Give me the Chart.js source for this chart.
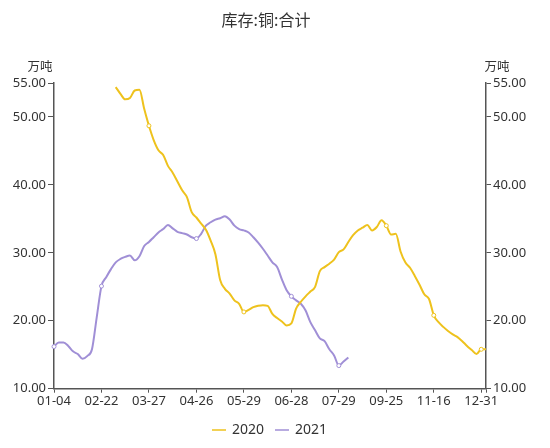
<!DOCTYPE html>
<html>
<head>
<meta charset="utf-8">
<script src="https://cdn.jsdelivr.net/npm/chart.js@4"></script>
<style>
html,body{margin:0;padding:0;background:#fff;}
#wrap{width:550px;height:448px;position:relative;}
</style>
</head>
<body>
<div id="wrap"><canvas id="c"></canvas></div>
<script>
const categories = [
 "01-04","01-09","01-14","01-19","01-24","01-29","02-03","02-08","02-13","02-18",
 "02-22","02-25","03-01","03-04","03-08","03-11","03-14","03-17","03-21","03-24",
 "03-27","03-30","04-02","04-05","04-08","04-11","04-14","04-17","04-20","04-23",
 "04-26","04-29","05-03","05-06","05-09","05-12","05-16","05-19","05-22","05-26",
 "05-29","06-01","06-04","06-07","06-10","06-13","06-16","06-19","06-22","06-25",
 "06-28","07-01","07-04","07-07","07-10","07-13","07-16","07-19","07-22","07-26",
 "07-29","08-03","08-09","08-15","08-21","08-27","09-02","09-08","09-14","09-20",
 "09-25","09-30","10-06","10-12","10-16","10-21","10-26","10-31","11-05","11-10",
 "11-16","11-20","11-25","11-29","12-04","12-08","12-13","12-17","12-22","12-26",
 "12-31",""
];
const tickLabels = ["01-04","02-22","03-27","04-26","05-29","06-28","07-29","09-25","11-16","12-31",""];

const series2020 = [
 null,null,null,null,null,null,null,null,null,null,
 null,null,null,54.4,53.4,52.6,52.8,53.9,54.0,51.2,
 48.7,46.6,45.1,44.4,42.8,41.8,40.5,39.2,38.2,36.0,
 35.2,34.3,33.4,31.8,29.8,26.0,24.7,24.0,23.0,22.5,
 21.3,21.6,22.0,22.2,22.3,22.2,21.0,20.4,19.9,19.3,
 19.6,21.8,22.8,23.6,24.3,25.0,27.3,27.9,28.4,29.0,
 30.1,30.5,31.6,32.6,33.3,33.7,34.1,33.3,33.8,34.8,
 34.0,32.7,32.8,30.2,28.6,27.8,26.6,25.3,23.9,23.2,
 20.8,19.8,19.1,18.5,18.0,17.6,17.0,16.3,15.7,15.1,
 15.8,15.8
];
const series2021 = [
 16.2,16.8,16.8,16.3,15.5,15.1,14.4,14.8,15.8,20.5,
 25.1,26.4,27.6,28.6,29.1,29.4,29.6,28.9,29.5,31.0,
 31.6,32.3,33.0,33.5,34.1,33.6,33.1,32.9,32.7,32.3,
 32.1,32.8,34.0,34.5,34.9,35.1,35.4,34.9,34.0,33.5,
 33.3,33.0,32.3,31.5,30.6,29.6,28.6,27.9,26.1,24.5,
 23.6,23.0,22.5,21.5,19.8,18.6,17.4,17.0,15.8,14.9,
 13.4,14.0,14.6
];
const yTicks = [10,20,30,40,50,55];
const markers2020 = [20,40,70,80,90];
const markers2021 = [0,10,30,50,60];

const C2020 = '#EEC21D';
const C2021 = '#A08FD6';
const FONT = '"Noto Sans","Noto Sans CJK SC",sans-serif';
const tickIdx = tickLabels.map(l => l === "" ? categories.length - 1 : categories.indexOf(l));

function radiusFor(marks){ return ctx => marks.includes(ctx.dataIndex) ? 2 : 0; }

const overlay = {
  id: 'overlay',
  afterDraw(chart){
    const c = chart.ctx;
    c.save();
    c.fillStyle = '#333';
    c.textAlign = 'center';
    c.textBaseline = 'middle';
    c.font = '16px "Noto Sans CJK SC", sans-serif';
    c.fillText('库存:铜:合计', 266, 20);
    c.font = '12.5px "Noto Sans CJK SC", sans-serif';
    c.fillText('万吨', 40, 66);
    c.fillText('万吨', 497, 66);
    const items = [['2020', C2020, 212], ['2021', C2021, 275]];
    c.font = '14px ' + FONT;
    c.textAlign = 'left';
    items.forEach(([t, col, x]) => {
      c.strokeStyle = col; c.lineWidth = 1.5;
      c.beginPath(); c.moveTo(x, 430); c.lineTo(x + 14, 430); c.stroke();
      c.fillStyle = '#333';
      c.fillText(t, x + 20, 430);
    });
    c.restore();
  }
};

const yAxisCommon = {
  type: 'linear', min: 10, max: 55,
  afterBuildTicks: s => { s.ticks = yTicks.map(v => ({value: v})); },
  border: { display: true, color: '#555', width: 1.5 },
  ticks: { color: '#333', font: { size: 13, family: FONT }, callback: v => Number(v).toFixed(2) }
};

new Chart(document.getElementById('c'), {
  type: 'line',
  data: {
    labels: categories,
    datasets: [
      { label: '2020', data: series2020, borderColor: C2020, backgroundColor: '#fff',
        borderWidth: 2, pointRadius: radiusFor(markers2020), pointBorderWidth: 1,
        pointBorderColor: C2020, pointBackgroundColor: '#fff', cubicInterpolationMode: 'monotone',
        spanGaps: false, yAxisID: 'y' },
      { label: '2021', data: series2021, borderColor: C2021, backgroundColor: '#fff',
        borderWidth: 2, pointRadius: radiusFor(markers2021), pointBorderWidth: 1,
        pointBorderColor: C2021, pointBackgroundColor: '#fff', cubicInterpolationMode: 'monotone',
        yAxisID: 'y' }
    ]
  },
  options: {
    responsive: true, maintainAspectRatio: false, animation: false,
    layout: { padding: { top: 83, bottom: 30, left: 0, right: 0 } },
    plugins: { legend: { display: false }, title: { display: false }, tooltip: { enabled: false } },
    scales: {
      x: {
        type: 'category', offset: false,
        afterBuildTicks: s => { s.ticks = tickIdx.map(v => ({value: v})); },
        afterFit: s => { s.height = 29.3; },
        grid: { drawOnChartArea: false, drawTicks: true, tickLength: 4, color: '#555' },
        border: { display: true, color: '#555', width: 1.5 },
        ticks: { autoSkip: false, maxRotation: 0, minRotation: 0, padding: 1, color: '#333',
          font: { size: 13, family: FONT } }
      },
      y: Object.assign({}, yAxisCommon, { position: 'left',
        afterFit: s => { s.width = 54; },
        grid: { drawOnChartArea: false, drawTicks: true, tickLength: 6, color: '#555', lineWidth: 1 },
        ticks: Object.assign({}, yAxisCommon.ticks, { padding: 2 }) }),
      y2: Object.assign({}, yAxisCommon, { position: 'right',
        afterFit: s => { s.width = 64; },
        grid: { drawOnChartArea: false, drawTicks: true, tickLength: 5, color: '#555', lineWidth: 1 },
        ticks: Object.assign({}, yAxisCommon.ticks, { padding: 2 }) })
    }
  },
  plugins: [overlay]
});
</script>
</body>
</html>
